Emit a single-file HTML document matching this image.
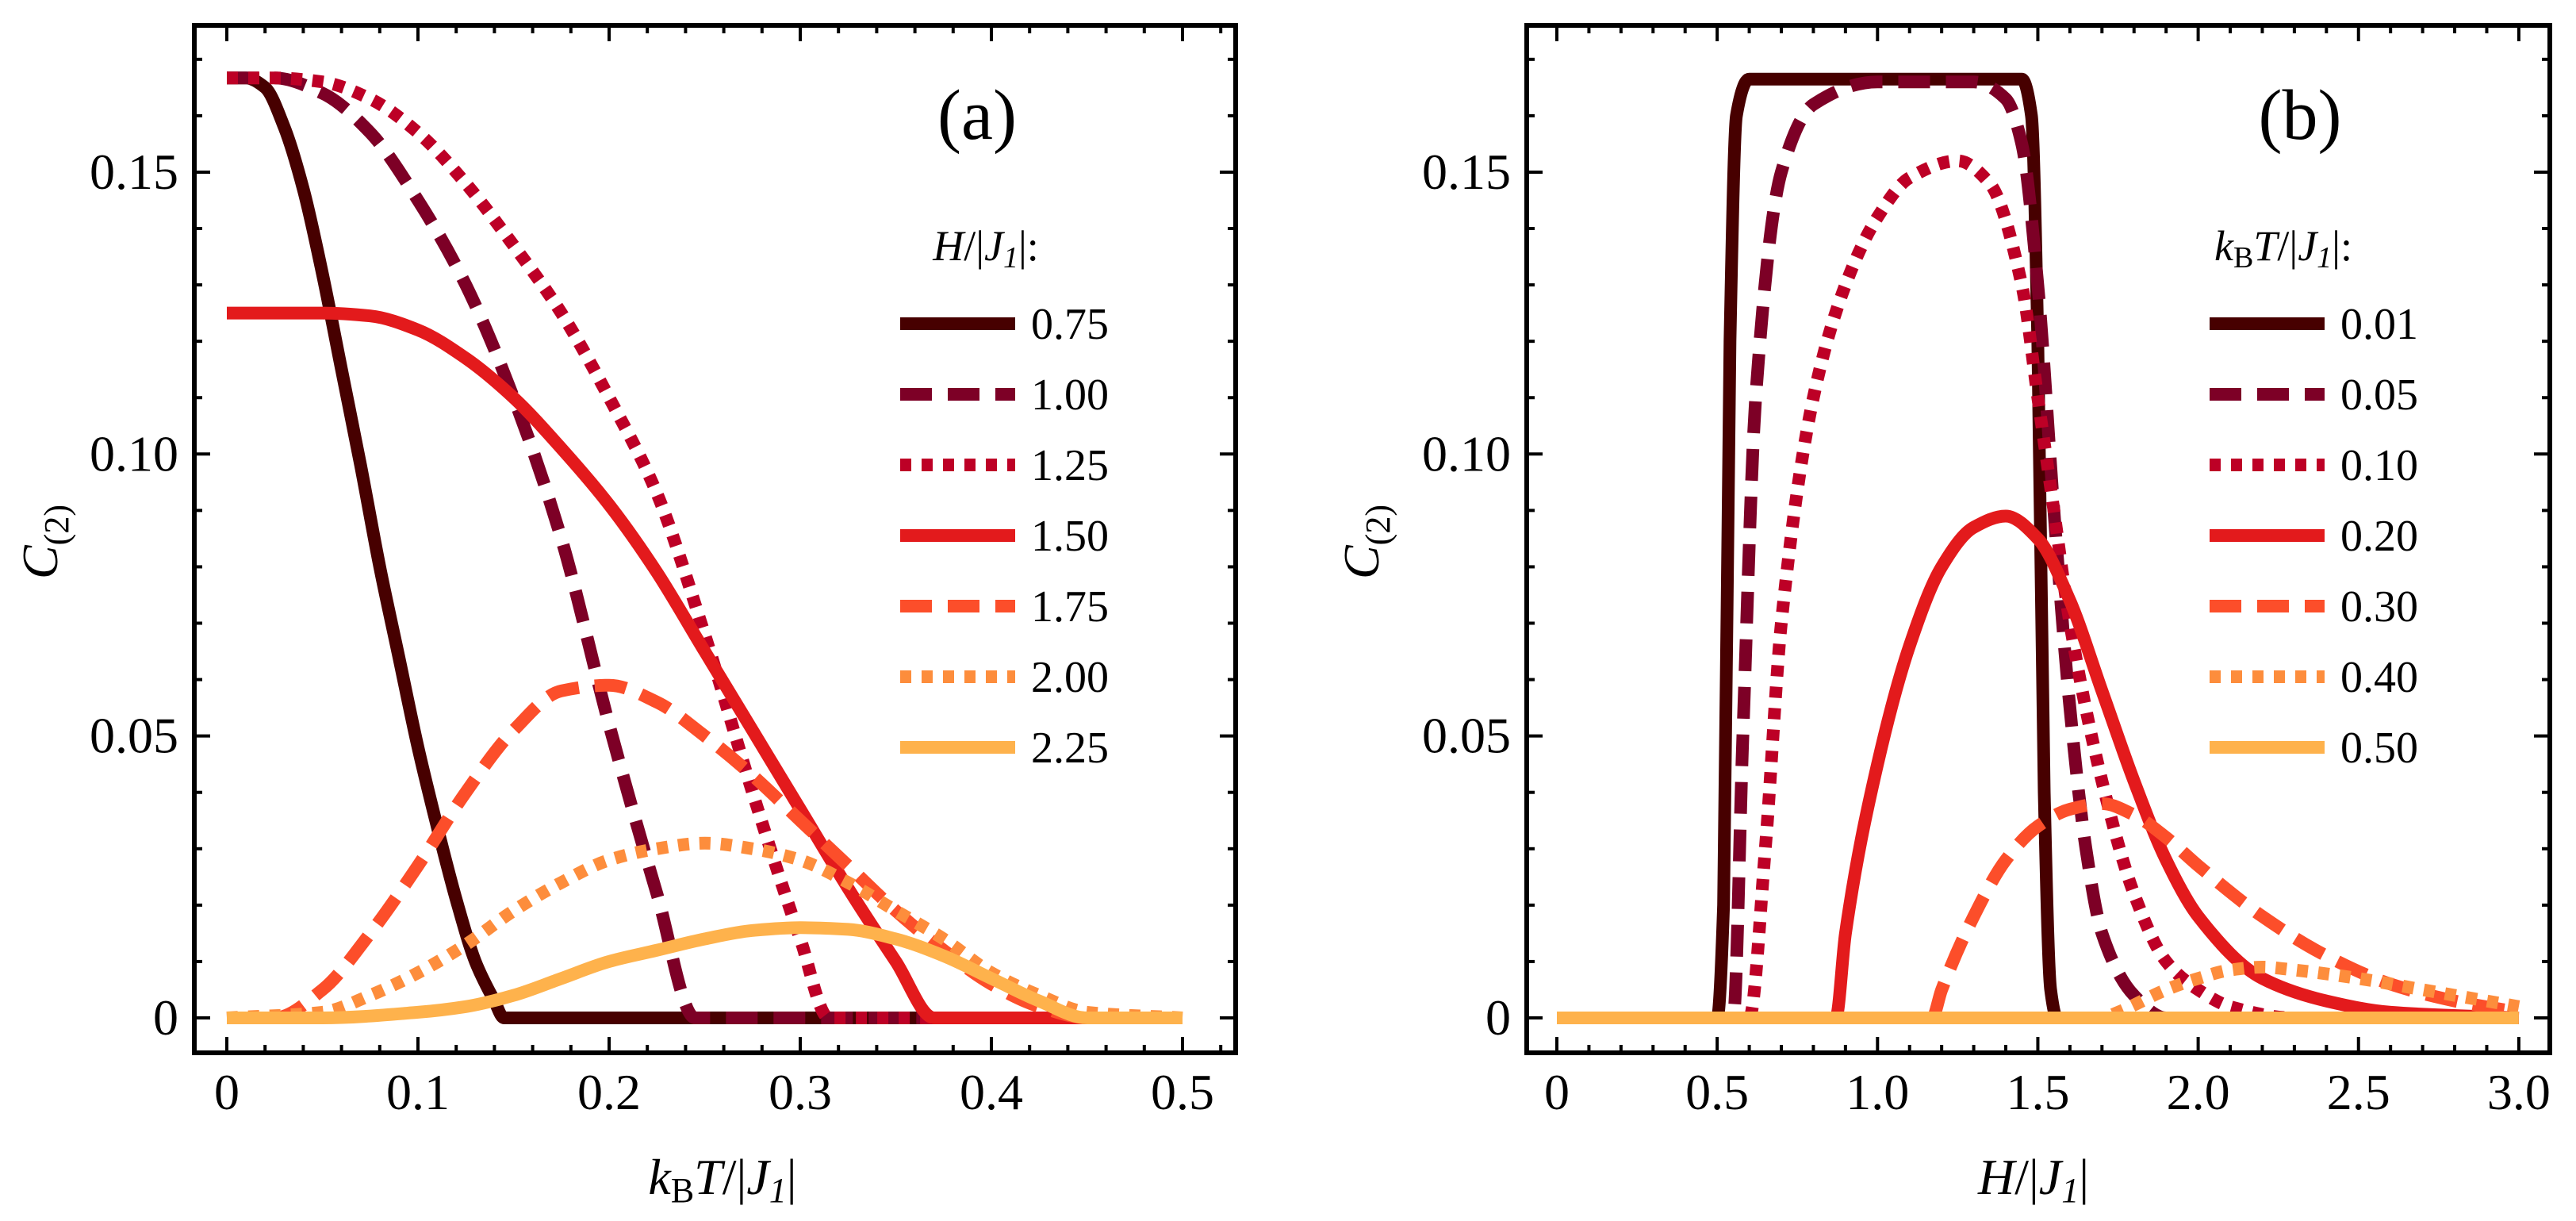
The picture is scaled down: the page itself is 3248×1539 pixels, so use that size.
<!DOCTYPE html>
<html><head><meta charset="utf-8">
<style>
html,body{margin:0;padding:0;background:#fff;}
svg{display:block;font-family:"Liberation Serif",serif;}
</style></head>
<body>
<svg id="chart" width="3248" height="1539" viewBox="0 0 3248 1539" xmlns="http://www.w3.org/2000/svg">
<g id="pa"></g>
<g id="pb"></g>
</svg>
<script>
// ---------- Panel (a) data ----------
const aSeriesLabels = ["0.75","1.00","1.25","1.50","1.75","2.00","2.25"];
const aT075 = [0,0.01,0.02,0.03,0.04,0.05,0.06,0.07,0.08,0.09,0.10,0.11,0.12,0.13,0.14,0.145,0.3,0.5];
const aC075 = [0.1667,0.1667,0.165,0.158,0.147,0.132,0.115,0.098,0.080,0.064,0.048,0.034,0.021,0.010,0.003,0,0,0];
const aT100 = [0,0.025,0.05,0.075,0.1,0.125,0.15,0.175,0.2,0.225,0.245,0.35,0.5];
const aC100 = [0.1667,0.1667,0.164,0.157,0.145,0.130,0.110,0.085,0.052,0.022,0,0,0];
const aT125 = [0,0.025,0.05,0.075,0.1,0.125,0.15,0.175,0.2,0.225,0.25,0.275,0.3,0.315,0.4,0.5];
const aC125 = [0.1667,0.1667,0.166,0.163,0.157,0.148,0.137,0.125,0.110,0.093,0.068,0.040,0.014,0,0,0];
const aT150 = [0,0.05,0.075,0.1,0.125,0.15,0.175,0.2,0.225,0.25,0.275,0.3,0.325,0.35,0.37,0.43,0.5];
const aC150 = [0.125,0.125,0.1245,0.122,0.117,0.110,0.101,0.091,0.079,0.065,0.051,0.037,0.023,0.010,0,0,0];
const aT175 = [0,0.025,0.05,0.075,0.1,0.125,0.15,0.175,0.2,0.225,0.25,0.275,0.3,0.325,0.35,0.375,0.4,0.425,0.45,0.5];
const aC175 = [0,0,0.005,0.015,0.027,0.040,0.051,0.058,0.059,0.056,0.050,0.043,0.035,0.027,0.019,0.012,0.006,0.002,0,0];
const aT200 = [0,0.05,0.075,0.1,0.125,0.15,0.175,0.2,0.225,0.25,0.275,0.3,0.325,0.35,0.375,0.4,0.425,0.45,0.5];
const aC200 = [0,0.001,0.004,0.008,0.013,0.019,0.024,0.028,0.030,0.031,0.030,0.028,0.024,0.019,0.014,0.008,0.004,0.001,0];
const aT225 = [0,0.05,0.1,0.125,0.15,0.175,0.2,0.225,0.25,0.275,0.3,0.325,0.35,0.375,0.4,0.425,0.45,0.5];
const aC225 = [0,0,0.001,0.002,0.004,0.007,0.010,0.012,0.014,0.0155,0.016,0.0157,0.014,0.011,0.007,0.003,0,0];
const aXTicks = [0,0.1,0.2,0.3,0.4,0.5];
const aXTickLabels = ["0","0.1","0.2","0.3","0.4","0.5"];
const yTicks = [0,0.05,0.10,0.15];
const yTickLabels = ["0","0.05","0.10","0.15"];

// ---------- Panel (b) data ----------
const bSeriesLabels = ["0.01","0.05","0.10","0.20","0.30","0.40","0.50"];
const bH001 = [0,0.5,0.52,0.54,0.56,0.6,1.45,1.48,1.5,1.52,1.54,1.56,3.0];
const bC001 = [0,0,0.02,0.12,0.16,0.1665,0.1665,0.16,0.12,0.04,0.005,0,0];
const bH005 = [0,0.55,0.58,0.62,0.7,0.8,1.0,1.3,1.4,1.45,1.5,1.55,1.6,1.65,1.7,1.8,1.9,3.0];
const bC005 = [0,0,0.05,0.11,0.15,0.162,0.166,0.166,0.163,0.155,0.13,0.09,0.055,0.03,0.015,0.004,0,0];
const bH010 = [0,0.6,0.65,0.7,0.8,0.9,1.0,1.1,1.25,1.35,1.45,1.5,1.55,1.6,1.7,1.8,1.9,2.0,2.1,2.3,3.0];
const bC010 = [0,0,0.03,0.07,0.11,0.13,0.142,0.149,0.152,0.148,0.13,0.11,0.09,0.07,0.042,0.022,0.01,0.005,0.002,0,0];
const bH020 = [0,0.87,0.9,1.0,1.1,1.2,1.3,1.4,1.5,1.6,1.7,1.8,1.9,2.0,2.2,2.4,2.6,3.0];
const bC020 = [0,0,0.015,0.045,0.066,0.08,0.087,0.089,0.085,0.074,0.058,0.042,0.028,0.018,0.007,0.003,0.001,0];
const bH030 = [0,1.17,1.2,1.3,1.4,1.5,1.6,1.7,1.8,1.9,2.0,2.2,2.4,2.6,2.8,3.0];
const bC030 = [0,0,0.005,0.018,0.028,0.034,0.037,0.038,0.036,0.032,0.027,0.018,0.011,0.006,0.003,0.001];
const bH040 = [0,1.7,1.75,1.9,2.0,2.1,2.2,2.3,2.5,2.7,2.9,3.0];
const bC040 = [0,0,0.001,0.005,0.007,0.0085,0.009,0.0085,0.007,0.005,0.003,0.002];
const bH050 = [0,1.0,2.0,3.0];
const bC050 = [0,0,0,0];
const bXTicks = [0,0.5,1.0,1.5,2.0,2.5,3.0];
const bXTickLabels = ["0","0.5","1.0","1.5","2.0","2.5","3.0"];

const colors = ["#470000","#7d0026","#bd0026","#e31a1c","#fc4e2a","#fd8d3c","#feb24c"];
const dashes = ["none","40 20","14 13","none","40 20","14 13","none"];
const NS = "http://www.w3.org/2000/svg";

function mk(tag, attrs, parent){
  const e = document.createElementNS(NS, tag);
  for (const k in attrs) e.setAttribute(k, attrs[k]);
  parent.appendChild(e);
  return e;
}
// monotone cubic (Fritsch-Carlson) path in data space, mapped to pixels
function monoPath(xs, ys, X, Y){
  const n = xs.length;
  const d = [], m = new Array(n);
  for (let i=0;i<n-1;i++) d.push((ys[i+1]-ys[i])/(xs[i+1]-xs[i]));
  m[0] = d[0]; m[n-1] = d[n-2];
  for (let i=1;i<n-1;i++){
    if (d[i-1]*d[i] <= 0) m[i] = 0;
    else {
      const h0 = xs[i]-xs[i-1], h1 = xs[i+1]-xs[i];
      const w1 = 2*h1+h0, w2 = h1+2*h0;
      m[i] = (w1+w2)/(w1/d[i-1]+w2/d[i]);
    }
  }
  let p = "M"+X(xs[0]).toFixed(1)+","+Y(ys[0]).toFixed(1);
  for (let i=0;i<n-1;i++){
    const h = xs[i+1]-xs[i];
    const c1x = xs[i]+h/3, c1y = ys[i]+m[i]*h/3;
    const c2x = xs[i+1]-h/3, c2y = ys[i+1]-m[i+1]*h/3;
    p += " C"+X(c1x).toFixed(1)+","+Y(c1y).toFixed(1)+" "+X(c2x).toFixed(1)+","+Y(c2y).toFixed(1)+" "+X(xs[i+1]).toFixed(1)+","+Y(ys[i+1]).toFixed(1);
  }
  return p;
}

function panel(g, cfg){
  const X = v => cfg.x0px + v * cfg.xs;
  const Y = v => cfg.y0px - v * cfg.ys;
  const L = cfg.fl, R = cfg.fr, T = cfg.ft, B = cfg.fb;
  const cid = "clip"+cfg.id;
  const defs = mk("defs",{},g);
  const cp = mk("clipPath",{id:cid},defs);
  mk("rect",{x:L,y:T,width:R-L,height:B-T},cp);
  const sg = mk("g",{"clip-path":"url(#"+cid+")"},g);
  
  
  cfg.series.forEach((s,i)=>{
    const p = mk("path",{d:monoPath(s.x,s.y,X,Y),fill:"none",stroke:colors[i],"stroke-width":16,"stroke-dasharray":dashes[i],"stroke-linejoin":"round"},sg);
    
    
  });
  const fr = mk("rect",{x:L,y:T,width:R-L,height:B-T,fill:"none",stroke:"#000","stroke-width":6},g);
  
  
  const tg = mk("g",{stroke:"#000","stroke-width":4},g);
  for (let v=cfg.xMinorStart; v<=cfg.xMax+1e-9; v+=cfg.xMinor){
    const isMaj = cfg.xTicks.some(t=>Math.abs(t-v)<1e-6);
    const len = isMaj?20:10;
    mk("line",{x1:X(v),x2:X(v),y1:B,y2:B-len},tg);
    mk("line",{x1:X(v),x2:X(v),y1:T,y2:T+len},tg);
  }
  for (let v=0; v<=0.17+1e-9; v+=0.01){
    const isMaj = yTicks.some(t=>Math.abs(t-v)<1e-6);
    const len = isMaj?20:10;
    mk("line",{x1:L,x2:L+len,y1:Y(v),y2:Y(v)},tg);
    mk("line",{x1:R,x2:R-len,y1:Y(v),y2:Y(v)},tg);
  }
  cfg.xTicks.forEach((v,i)=>{
    const t = mk("text",{x:X(v),y:1398,"font-size":64,"text-anchor":"middle"},g);
    t.textContent = cfg.xLabels[i];
    
    
  });
  yTicks.forEach((v,i)=>{
    const t = mk("text",{x:L-20,y:Y(v)+21,"font-size":64,"text-anchor":"end"},g);
    t.textContent = yTickLabels[i];
    
    
  });
  const yt = mk("text",{x:0,y:0,"font-size":64,"text-anchor":"middle",transform:"translate("+cfg.yTitleX+",683) rotate(-90)"},g);
  yt.innerHTML = '<tspan font-style="italic">C</tspan><tspan font-size="44" dy="14">(2)</tspan>';
  
  
  const xt = mk("text",{x:cfg.xTitleX,y:1505,"font-size":64,"text-anchor":"middle"},g);
  xt.innerHTML = cfg.xTitle;
  
  
  const pl = mk("text",{x:cfg.letterX,y:175,"font-size":90,"text-anchor":"middle"},g);
  pl.textContent = cfg.letter;
  
  
  const lg = mk("g",{},g);
  
  
  const lt = mk("text",{x:cfg.legTitleX,y:328,"font-size":54,"text-anchor":"middle"},lg);
  lt.innerHTML = cfg.legTitle;
  
  
  cfg.series.forEach((s,i)=>{
    const yy = 408 + i*89;
    const ln = mk("line",{x1:cfg.legX1,x2:cfg.legX2,y1:yy,y2:yy,stroke:colors[i],"stroke-width":16,"stroke-dasharray":dashes[i]},lg);
    
    
    const tx = mk("text",{x:cfg.legX2+20,y:yy+19,"font-size":56},lg);
    tx.textContent = s.label;
    
    
  });
}

panel(document.getElementById("pa"),{
  id:"a", x0px:286, xs:2410, y0px:1283, ys:7107,
  fl:245, fr:1558, ft:32, fb:1327,
  xMinorStart:0, xMinor:0.02, xMax:0.52, xTicks:aXTicks, xLabels:aXTickLabels,
  yTitleX:72, xTitleX:911,
  xTitle:'<tspan font-style="italic">k</tspan><tspan font-size="44" dy="10">B</tspan><tspan dy="-10" font-style="italic">T</tspan>/|<tspan font-style="italic">J</tspan><tspan font-style="italic" font-size="44" dy="10">1</tspan><tspan dy="-10">|</tspan>',
  letter:"(a)", letterX:1232,
  legTitle:'<tspan font-style="italic">H</tspan>/|<tspan font-style="italic">J</tspan><tspan font-style="italic" font-size="38" dy="9">1</tspan><tspan dy="-9">|:</tspan>', legTitleX:1243,
  legX1:1135, legX2:1280,
  series:[
    {label:aSeriesLabels[0],x:aT075,y:aC075},
    {label:aSeriesLabels[1],x:aT100,y:aC100},
    {label:aSeriesLabels[2],x:aT125,y:aC125},
    {label:aSeriesLabels[3],x:aT150,y:aC150},
    {label:aSeriesLabels[4],x:aT175,y:aC175},
    {label:aSeriesLabels[5],x:aT200,y:aC200},
    {label:aSeriesLabels[6],x:aT225,y:aC225}
  ]
});
panel(document.getElementById("pb"),{
  id:"b", x0px:1963, xs:404.3, y0px:1283, ys:7107,
  fl:1925, fr:3215, ft:32, fb:1327,
  xMinorStart:0, xMinor:0.1, xMax:3.05, xTicks:bXTicks, xLabels:bXTickLabels,
  yTitleX:1738, xTitleX:2564,
  xTitle:'<tspan font-style="italic">H</tspan>/|<tspan font-style="italic">J</tspan><tspan font-style="italic" font-size="44" dy="10">1</tspan><tspan dy="-10">|</tspan>',
  letter:"(b)", letterX:2900,
  legTitle:'<tspan font-style="italic">k</tspan><tspan font-size="38" dy="9">B</tspan><tspan dy="-9" font-style="italic">T</tspan>/|<tspan font-style="italic">J</tspan><tspan font-style="italic" font-size="38" dy="9">1</tspan><tspan dy="-9">|:</tspan>', legTitleX:2879,
  legX1:2786, legX2:2931,
  series:[
    {label:bSeriesLabels[0],x:bH001,y:bC001},
    {label:bSeriesLabels[1],x:bH005,y:bC005},
    {label:bSeriesLabels[2],x:bH010,y:bC010},
    {label:bSeriesLabels[3],x:bH020,y:bC020},
    {label:bSeriesLabels[4],x:bH030,y:bC030},
    {label:bSeriesLabels[5],x:bH040,y:bC040},
    {label:bSeriesLabels[6],x:bH050,y:bC050}
  ]
});
</script>
</body></html>
